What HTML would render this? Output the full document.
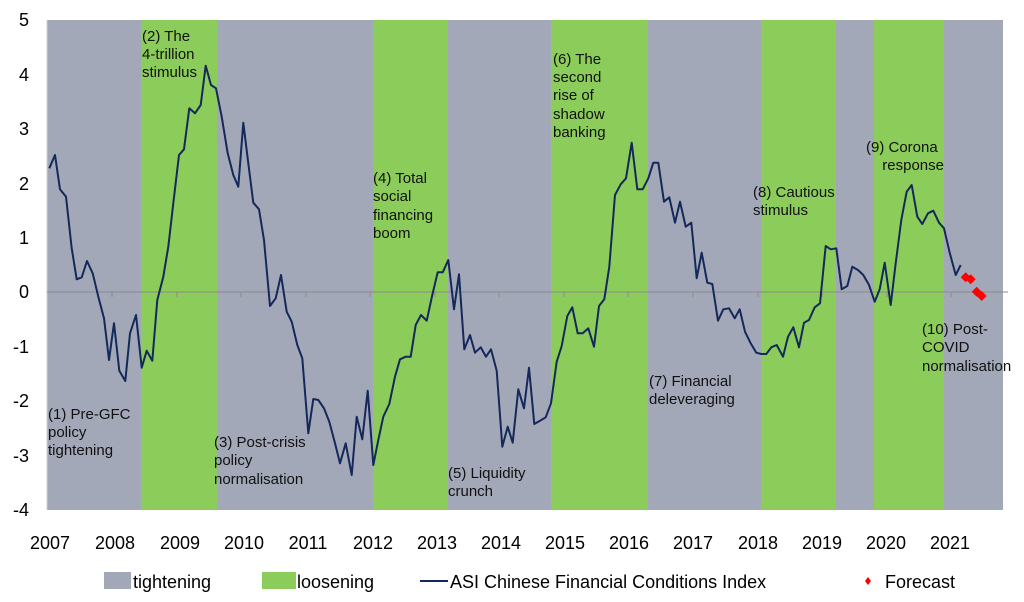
<!DOCTYPE html>
<html><head><meta charset="utf-8"><style>
body{margin:0;background:#fff;}
svg{display:block;font-family:"Liberation Sans",Arial,sans-serif;}
</style></head><body>
<svg width="1024" height="602" viewBox="0 0 1024 602" xmlns="http://www.w3.org/2000/svg">
<rect x="47" y="20" width="956" height="490" fill="#a3a8b9"/>
<g fill="#8ccc5a">
<rect x="141" y="20" width="76" height="490"/>
<rect x="373" y="20" width="75" height="490"/>
<rect x="551" y="20" width="97" height="490"/>
<rect x="761" y="20" width="75" height="490"/>
<rect x="874" y="20" width="70" height="490"/>
</g>
<line x1="47" y1="20" x2="47" y2="510" stroke="#d0d0d0"/>
<line x1="47" y1="292" x2="1008" y2="292" stroke="#8a8a8a" stroke-width="1"/>
<g stroke="#8a8a8a">
<line x1="112" y1="292" x2="112" y2="297"/><line x1="177" y1="292" x2="177" y2="297"/><line x1="241" y1="292" x2="241" y2="297"/><line x1="306" y1="292" x2="306" y2="297"/><line x1="370" y1="292" x2="370" y2="297"/><line x1="435" y1="292" x2="435" y2="297"/><line x1="499" y1="292" x2="499" y2="297"/><line x1="564" y1="292" x2="564" y2="297"/><line x1="628" y1="292" x2="628" y2="297"/><line x1="693" y1="292" x2="693" y2="297"/><line x1="758" y1="292" x2="758" y2="297"/><line x1="822" y1="292" x2="822" y2="297"/><line x1="887" y1="292" x2="887" y2="297"/><line x1="951" y1="292" x2="951" y2="297"/>
</g>
<g font-size="18" fill="#000" text-anchor="end">
<text x="29" y="26">5</text><text x="29" y="81">4</text><text x="29" y="135">3</text><text x="29" y="190">2</text><text x="29" y="244">1</text><text x="29" y="298">0</text><text x="29" y="353">-1</text><text x="29" y="407">-2</text><text x="29" y="462">-3</text><text x="29" y="516">-4</text>
</g>
<g font-size="18" fill="#000" text-anchor="middle">
<text x="50" y="549">2007</text><text x="115" y="549">2008</text><text x="180" y="549">2009</text><text x="244" y="549">2010</text><text x="308" y="549">2011</text><text x="373" y="549">2012</text><text x="437" y="549">2013</text><text x="501" y="549">2014</text><text x="565" y="549">2015</text><text x="629" y="549">2016</text><text x="693" y="549">2017</text><text x="758" y="549">2018</text><text x="822" y="549">2019</text><text x="886" y="549">2020</text><text x="950" y="549">2021</text>
</g>
<polyline fill="none" stroke="#14285a" stroke-width="2" stroke-linejoin="round" points="49.3,168.3 55,155 60,189.3 66,196.7 71.7,248.3 76.7,279.3 81.7,277.3 87,261 92.7,273.3 98.3,296.7 104,318.3 109,360 114,323.3 119.3,370.7 125.3,381 130,333.3 136,315 141.7,367.7 146.7,350.7 152.3,360.7 157.3,300 163.3,276.7 168.3,246.7 173.3,203.3 179,155 184,149.3 189.3,108.3 195,113.3 200.7,105 205.7,65.7 211,85 216,88.3 221.7,116.7 227.7,153.3 233.3,175 238.3,186.7 243.3,122.7 248.3,163.3 253.3,202.7 259,209.3 264,240 270,306 275.7,298.3 281,275 286.7,311.7 291.7,321.7 297.3,345 302.3,358.3 308.3,433.3 313.3,399 318.3,400 324,408.3 329.3,421.7 335,443.3 340,463.3 345.7,443.3 351.7,475 356.7,416.7 362.3,439.3 367.7,390.7 373.3,465 378.3,440 383.3,416.7 389.3,404 395,376.7 400,359.3 405.7,356.7 410.7,356.7 415.7,325 421,315 426.7,320.7 432.3,295 437.7,272.3 442.7,272.3 448.3,260 454,309.3 459,274.3 464.3,349.3 470,335 475,352.7 480.7,347.3 486,356.7 491,349.3 496.7,370.7 502.3,446.7 507.7,426.7 512.7,442.7 518.3,389.3 524,408.3 529,367.7 534.3,424 540,420.7 545.7,417.3 551,403.3 556.7,361.7 561.7,346 567.3,316 572.3,307.3 577.7,333.3 582.7,333.3 588.3,328.3 594,346.7 599,306 604.3,299.3 609.3,266.7 615,195 620.7,184.3 626,178.3 631.7,142.7 637.3,189.3 642.7,189.3 648.3,178.3 653.3,162.7 658.3,162.7 664,201.7 669.3,197.3 675,222.7 680,201.7 685.7,226.7 691.3,222.7 696.7,278.3 701.7,252.7 707.3,282.7 712.3,284 718,320.7 723.3,309.3 729,308.3 734.7,318.3 739.7,309.3 745,331.7 750.7,343.3 756.3,352.7 761.3,354 766.3,354 771.3,347.3 776.7,345 783,356.7 788,336.7 793.3,327.3 799,347.3 804,322.7 809,320 814.7,307.3 820,303.3 825.7,246 830.7,249.3 836.3,248.3 841.7,289.3 847.3,286 852.3,266.7 858,270 863.3,275 869,285 874.7,301.7 879.7,289.3 884.7,262.7 890.7,305 895.7,263.3 901.3,220 906.7,191.7 911.7,185 917.3,216.7 922.3,224 928,213.3 933.3,210.7 939,222.7 944,228.3 949.7,252.7 955.7,275 960.7,265"/>
<g fill="#ff0000">
<path d="M965.7,272.3 l5,5 l-5,5 l-5,-5z"/><path d="M970.7,274.3 l5,5 l-5,5 l-5,-5z"/><path d="M976.7,286.7 l5,5 l-5,5 l-5,-5z"/><path d="M981.7,291 l5,5 l-5,5 l-5,-5z"/>
</g>
<g font-size="15" fill="#111">
<text x="142" y="41">(2) The</text><text x="142" y="59">4-trillion</text><text x="142" y="77">stimulus</text>
<text x="48" y="419">(1) Pre-GFC</text><text x="48" y="437">policy</text><text x="48" y="455">tightening</text>
<text x="214" y="447">(3) Post-crisis</text><text x="214" y="465">policy</text><text x="214" y="484">normalisation</text>
<text x="373" y="183">(4) Total</text><text x="373" y="201">social</text><text x="373" y="220">financing</text><text x="373" y="238">boom</text>
<text x="448" y="478">(5) Liquidity</text><text x="448" y="496">crunch</text>
<text x="553" y="64">(6) The</text><text x="553" y="82">second</text><text x="553" y="100">rise of</text><text x="553" y="119">shadow</text><text x="553" y="137">banking</text>
<text x="649" y="386">(7) Financial</text><text x="649" y="404">deleveraging</text>
<text x="753" y="197">(8) Cautious</text><text x="753" y="215">stimulus</text>
<text x="866" y="152">(9) Corona</text><text x="944" y="170" text-anchor="end">response</text>
<text x="922" y="334">(10) Post-</text><text x="922" y="352">COVID</text><text x="922" y="371">normalisation</text>
</g>
<rect x="104" y="572" width="27" height="17" fill="#a3a8b9"/>
<rect x="262" y="572" width="34" height="17" fill="#8ccc5a"/>
<line x1="420" y1="581" x2="448" y2="581" stroke="#14285a" stroke-width="2"/>
<path d="M868,577 l3,4 l-3,4 l-3,-4z" fill="#ff0000"/>
<g font-size="18" fill="#000">
<text x="133" y="588">tightening</text>
<text x="297" y="588">loosening</text>
<text x="450" y="588">ASI Chinese Financial Conditions Index</text>
<text x="885" y="588">Forecast</text>
</g>
</svg>
</body></html>
